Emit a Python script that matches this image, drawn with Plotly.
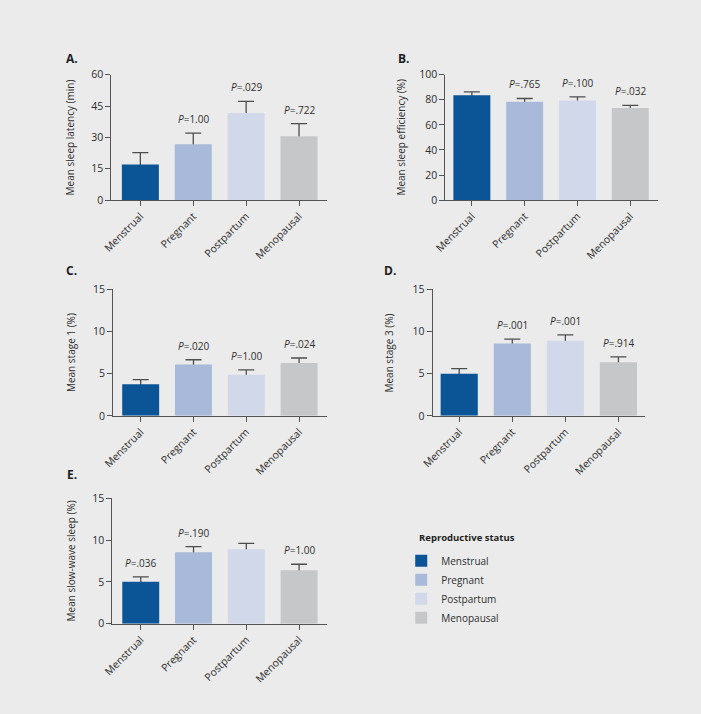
import plotly.graph_objects as go

categories = ["Menstrual", "Pregnant", "Postpartum", "Menopausal"]
colors = ["#0b5597", "#a8b9d9", "#d0d8ea", "#c6c7c9"]

latency_mean = [17.0, 26.7, 41.7, 30.5]
latency_err = [5.7, 5.3, 5.5, 6.1]
latency_p = [None, "1.00", ".029", ".722"]

efficiency_mean = [83.6, 78.4, 79.4, 73.4]
efficiency_err = [2.6, 2.6, 2.9, 2.1]
efficiency_p = [None, ".765", ".100", ".032"]

stage1_mean = [3.74, 6.10, 4.87, 6.27]
stage1_err = [0.56, 0.55, 0.58, 0.59]
stage1_p = [None, ".020", "1.00", ".024"]

stage3_mean = [5.00, 8.57, 8.90, 6.35]
stage3_err = [0.60, 0.53, 0.70, 0.65]
stage3_p = [None, ".001", ".001", ".914"]

sws_mean = [5.00, 8.55, 8.90, 6.40]
sws_err = [0.60, 0.65, 0.70, 0.70]
sws_p = [".036", ".190", None, "1.00"]

panels = [
    dict(letter="A.", title="Mean sleep latency (min)", mean=latency_mean, err=latency_err, p=latency_p,
         ymax=60, dtick=15),
    dict(letter="B.", title="Mean sleep efficiency (%)", mean=efficiency_mean, err=efficiency_err, p=efficiency_p,
         ymax=100, dtick=20),
    dict(letter="C.", title="Mean stage 1 (%)", mean=stage1_mean, err=stage1_err, p=stage1_p,
         ymax=15, dtick=5),
    dict(letter="D.", title="Mean stage 3 (%)", mean=stage3_mean, err=stage3_err, p=stage3_p,
         ymax=15, dtick=5),
    dict(letter="E.", title="Mean slow-wave sleep (%)", mean=sws_mean, err=sws_err, p=sws_p,
         ymax=15, dtick=5),
]

W, H = 701, 714
geom = [
    dict(px=(101, 320, 69, 197), xr=[-0.55, 3.52], letter=(61, 53), tx=59),
    dict(px=(441, 657, 69, 197), xr=[-0.50, 3.52], letter=(398, 53), tx=396),
    dict(px=(103, 320, 288, 417), xr=[-0.52, 3.52], letter=(61, 269), tx=59.5),
    dict(px=(428, 644, 288, 417), xr=[-0.50, 3.50], letter=(385, 269), tx=383.5),
    dict(px=(102, 320, 501, 629), xr=[-0.54, 3.52], letter=(61, 477), tx=59.5),
]

FONT = "Open Sans"
TXT = "#2e2e2e"
AX = "#555555"

fig = go.Figure()
layout = dict(
    width=W, height=H,
    margin=dict(l=0, r=0, t=0, b=0),
    paper_bgcolor="#ebebeb", plot_bgcolor="rgba(0,0,0,0)",
    barmode="overlay", showlegend=True,
    font=dict(family=FONT, size=10, color=TXT),
)
annotations = []

for i, (pan, g) in enumerate(zip(panels, geom)):
    n = "" if i == 0 else str(i + 1)
    xa, ya = "x" + n, "y" + n
    x0, x1, yt, yb = g["px"]
    # upper error bars; lower half hidden under the coloured bars
    fig.add_trace(go.Bar(
        x=categories, y=pan["mean"], width=0.7, xaxis=xa, yaxis=ya,
        marker=dict(color="rgba(0,0,0,0)", line=dict(width=0)),
        error_y=dict(type="data", symmetric=False, array=pan["err"],
                     arrayminus=[m / 2 for m in pan["mean"]],
                     color="#4d4d4d", thickness=1.3, width=8),
        showlegend=False, hoverinfo="skip"))
    for c, v, col in zip(categories, pan["mean"], colors):
        fig.add_trace(go.Bar(
            x=[c], y=[v], width=0.7, xaxis=xa, yaxis=ya, name=c, legendgroup=c,
            marker=dict(color=col, line=dict(width=0)), showlegend=(i == 0)))
    layout["xaxis" + n] = dict(
        domain=[x0 / W, x1 / W], anchor=ya, type="category", range=g["xr"],
        showline=True, linecolor=AX, linewidth=1, ticks="outside", ticklen=5,
        tickcolor=AX, tickwidth=1, tickangle=-45, showgrid=False, zeroline=False,
        tickfont=dict(size=10.5, color=TXT, family=FONT))
    layout["yaxis" + n] = dict(
        domain=[1 - yb / H, 1 - yt / H], anchor=xa, range=[0, pan["ymax"]],
        tick0=0, dtick=pan["dtick"], showline=True, linecolor=AX, linewidth=1,
        ticks="outside", ticklen=5, tickcolor=AX, tickwidth=1, showgrid=False,
        zeroline=False, tickfont=dict(size=10.5, color=TXT, family=FONT))
    annotations.append(dict(xref="paper", yref="paper", x=g["letter"][0] / W, y=1 - g["letter"][1] / H,
                            text="<b>%s</b>" % pan["letter"], showarrow=False,
                            font=dict(size=12, color="#1e1e1e", family=FONT),
                            xanchor="center", yanchor="middle"))
    annotations.append(dict(xref="paper", yref="paper", x=g["tx"] / W, y=1 - (yt + yb) / 2 / H,
                            text=pan["title"], textangle=-90, showarrow=False,
                            font=dict(size=10, color=TXT, family=FONT),
                            xanchor="center", yanchor="middle"))
    for c, v, e, p in zip(categories, pan["mean"], pan["err"], pan["p"]):
        if p is None:
            continue
        annotations.append(dict(xref=xa, yref=ya, x=c, y=v + e, yshift=14,
                                text="<i>P</i>=%s" % p, showarrow=False,
                                font=dict(size=10, color=TXT, family=FONT),
                                xanchor="center", yanchor="middle"))

# legend heading
annotations.append(dict(xref="paper", yref="paper", x=412 / W, y=1 - 541 / H,
                        text="<b>Reproductive status</b>", showarrow=False,
                        font=dict(size=9.5, color="#1e1e1e", family=FONT),
                        xanchor="left", yanchor="middle"))

layout["annotations"] = annotations
layout["legend"] = dict(
    x=396 / W, y=1 - 550 / H, xanchor="left", yanchor="top",
    bgcolor="rgba(0,0,0,0)", traceorder="normal",
    font=dict(size=10, color=TXT, family=FONT), itemclick=False)
fig.update_layout(**layout)

page_css = ("document.documentElement.style.margin='0';document.body.style.margin='0';"
            "document.body.style.background='#ebebeb';")
fig.write_html("out.html", config={"displayModeBar": False},
               post_script="});" + page_css + "(function(){")
